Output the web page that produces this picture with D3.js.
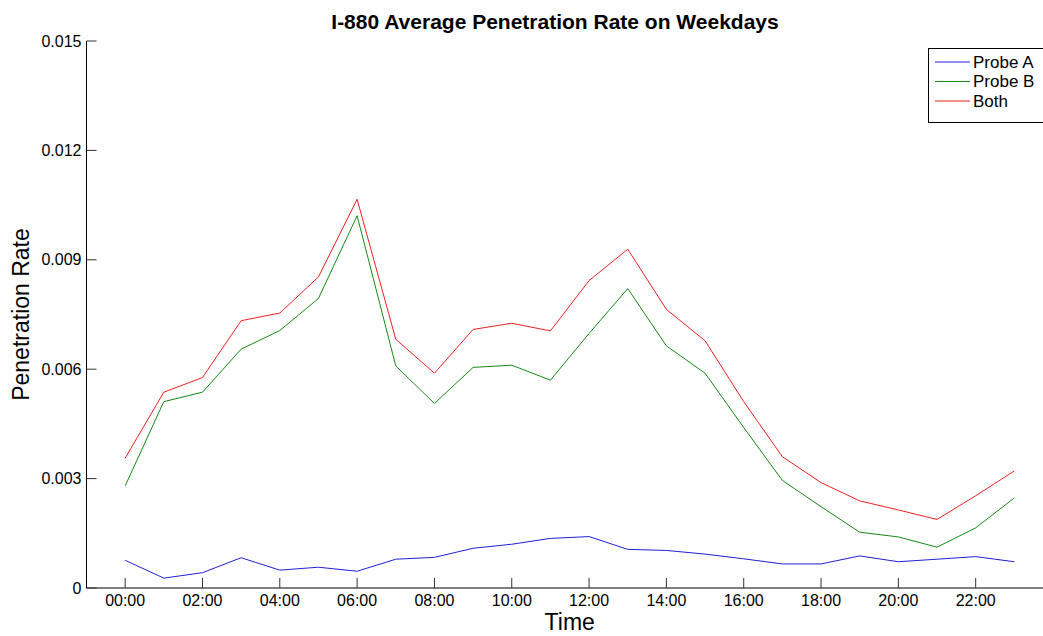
<!DOCTYPE html>
<html>
<head>
<meta charset="utf-8">
<script src="https://cdn.jsdelivr.net/npm/d3@7"></script>
<style>
  body { margin: 0; background: #fff; }
  svg { display: block; font-family: Arial, "Liberation Sans", sans-serif; }
  .tick-label { font-size: 16px; fill: #000; }
</style>
</head>
<body>
<svg id="chart" width="1043" height="636"></svg>
<script>
// hours of the day, 0..23
const hours = d3.range(0, 24);
const hourLabels = ['00:00', '02:00', '04:00', '06:00', '08:00', '10:00',
                    '12:00', '14:00', '16:00', '18:00', '20:00', '22:00'];
const yTicks = [0, 0.003, 0.006, 0.009, 0.012, 0.015];

const probeA = [0.00076, 0.00027, 0.00042, 0.00083, 0.00049, 0.00057, 0.00046, 0.00079,
                0.00084, 0.00109, 0.00120, 0.00136, 0.00141, 0.00106, 0.00103, 0.00093,
                0.00080, 0.00066, 0.00066, 0.00088, 0.00072, 0.00079, 0.00086, 0.00072];
const probeB = [0.00280, 0.00511, 0.00537, 0.00655, 0.00706, 0.00794, 0.01021, 0.00609,
                0.00506, 0.00605, 0.00611, 0.00570, 0.00698, 0.00821, 0.00664, 0.00589,
                0.00440, 0.00295, 0.00223, 0.00153, 0.00140, 0.00112, 0.00165, 0.00247];
const both   = [0.00356, 0.00537, 0.00577, 0.00733, 0.00754, 0.00853, 0.01066, 0.00682,
                0.00589, 0.00709, 0.00726, 0.00705, 0.00843, 0.00929, 0.00764, 0.00678,
                0.00511, 0.00360, 0.00289, 0.00239, 0.00214, 0.00188, 0.00253, 0.00321];

const series = [
  { name: 'Probe A', values: probeA, color: '#2020d8' },
  { name: 'Probe B', values: probeB, color: '#168a16' },
  { name: 'Both',    values: both,   color: '#f02020' }
];

const svg = d3.select('#chart');
const plotLeft = 86.5, plotRight = 1053, plotTop = 41, plotBottom = 588;

const x = d3.scaleLinear().domain([-1, 24]).range([plotLeft, plotRight]);
const y = d3.scaleLinear().domain([0, 0.015]).range([plotBottom, plotTop]);

// axes lines (left + bottom only, box is cropped on the right)
svg.append('line')
  .attr('x1', plotLeft).attr('x2', plotLeft).attr('y1', plotTop).attr('y2', plotBottom)
  .attr('stroke', '#000').attr('stroke-width', 1);
svg.append('line')
  .attr('x1', plotLeft).attr('x2', 1043).attr('y1', plotBottom).attr('y2', plotBottom)
  .attr('stroke', '#000').attr('stroke-width', 1);

// y ticks (pointing inward)
const yg = svg.append('g');
yTicks.forEach(t => {
  yg.append('line')
    .attr('x1', plotLeft).attr('x2', plotLeft + 10)
    .attr('y1', y(t)).attr('y2', y(t))
    .attr('stroke', '#333');
  yg.append('text')
    .attr('class', 'tick-label')
    .attr('x', plotLeft - 5).attr('y', y(t))
    .attr('dy', '0.35em')
    .attr('text-anchor', 'end')
    .text(t === 0 ? '0' : d3.format('.3f')(t));
});

// x ticks
const xg = svg.append('g');
hourLabels.forEach((lbl, i) => {
  const h = i * 2;
  xg.append('line')
    .attr('x1', x(h)).attr('x2', x(h))
    .attr('y1', plotBottom).attr('y2', plotBottom - 10)
    .attr('stroke', '#333');
  xg.append('text')
    .attr('class', 'tick-label')
    .attr('x', x(h)).attr('y', plotBottom + 18)
    .attr('text-anchor', 'middle')
    .text(lbl);
});

// lines
const line = d3.line()
  .x((d, i) => x(hours[i]))
  .y(d => y(d));

series.forEach(s => {
  svg.append('path')
    .datum(s.values)
    .attr('fill', 'none')
    .attr('stroke', s.color)
    .attr('stroke-width', 1)
    .attr('d', line);
});

// title and axis labels
svg.append('text')
  .attr('x', 555).attr('y', 29)
  .attr('text-anchor', 'middle')
  .attr('font-size', 21).attr('font-weight', 'bold')
  .text('I-880 Average Penetration Rate on Weekdays');

svg.append('text')
  .attr('x', (plotLeft + plotRight) / 2).attr('y', 630)
  .attr('text-anchor', 'middle')
  .attr('font-size', 23)
  .text('Time');

svg.append('text')
  .attr('transform', `translate(29, ${(plotTop + plotBottom) / 2}) rotate(-90)`)
  .attr('text-anchor', 'middle')
  .attr('font-size', 23)
  .text('Penetration Rate');

// legend
const lg = svg.append('g');
lg.append('rect')
  .attr('x', 928.5).attr('y', 48.5).attr('width', 130).attr('height', 74)
  .attr('fill', '#fff').attr('stroke', '#000').attr('stroke-width', 1);
series.forEach((s, i) => {
  const ly = 62 + i * 19.5;
  lg.append('line')
    .attr('x1', 935).attr('x2', 970).attr('y1', ly).attr('y2', ly)
    .attr('stroke', s.color);
  lg.append('text')
    .attr('x', 973).attr('y', ly).attr('dy', '0.35em')
    .attr('font-size', 17)
    .text(s.name);
});
</script>
</body>
</html>
